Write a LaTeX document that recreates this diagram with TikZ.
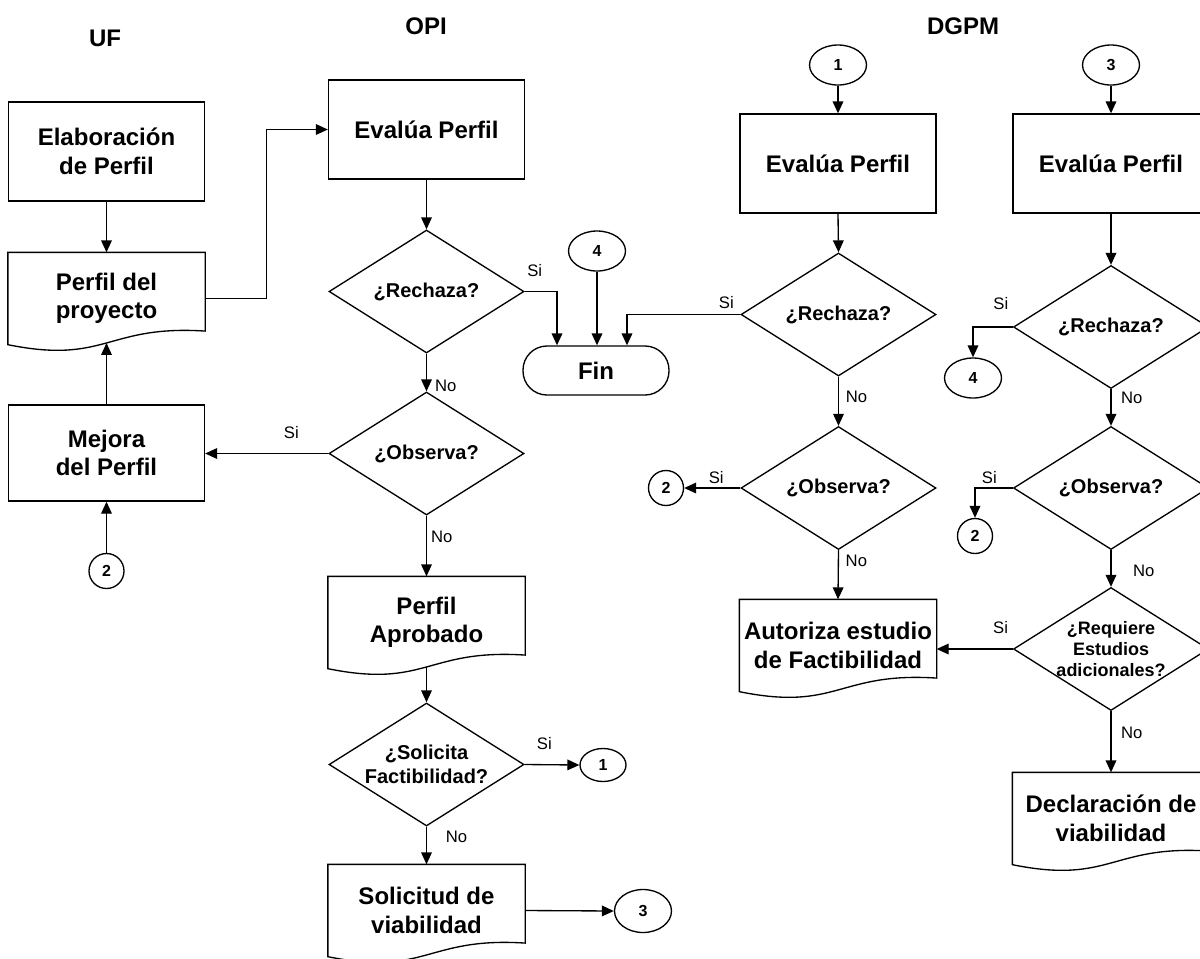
\documentclass[tikz,border=0pt]{standalone}
\usepackage{fontspec}
\setmainfont{Liberation Sans}
\usepackage{tikz}
\usetikzlibrary{positioning,shapes,arrows.meta,calc}

\begin{document}
\begin{tikzpicture}[x=0.75pt,y=-0.75pt,line width=1pt,
    proceso/.style={draw,rectangle,minimum width=147pt,minimum height=74.25pt,inner sep=0pt,align=center,font=\fontsize{18}{21.4}\selectfont\bfseries},
    documento/.style={rectangle,minimum width=147pt,minimum height=68.25pt,inner sep=0pt,align=center,font=\fontsize{18}{21.4}\selectfont\bfseries},
    decision/.style={draw,diamond,aspect=1.585,minimum width=146.25pt,minimum height=92.25pt,inner sep=0pt,align=center,font=\fontsize{15}{18}\selectfont\bfseries},
    conector/.style={draw,ellipse,minimum width=42.75pt,minimum height=30pt,inner sep=0pt,font=\fontsize{12}{14}\selectfont\bfseries},
    enlace/.style={draw,circle,minimum size=26.25pt,inner sep=0pt,font=\fontsize{12}{14}\selectfont\bfseries},
    terminal/.style={draw,rectangle,rounded corners=18pt,minimum width=109.5pt,minimum height=36.75pt,font=\fontsize{18}{21}\selectfont\bfseries},
    titulo/.style={font=\fontsize{18}{21}\selectfont\bfseries},
    etiqueta/.style={font=\fontsize{12.5}{14}\selectfont,inner sep=1pt},
    flecha/.style={-{Triangle[length=9pt,width=8pt]}}]
    \useasboundingbox (0,0) rectangle (1200,958);
    \clip (0,0) rectangle (1200,958);

    % encabezados
    \node[titulo] (uf) at (105,38) {UF};
    \node[titulo] (opi) at (426,26) {OPI};
    \node[titulo] (dgpm) at (963,26) {DGPM};

    % UF
    \node[proceso] (elab) at (106.5,151.5) {Elaboración\\de Perfil};
    \node[documento] (pp) at (106.5,298.5) {Perfil del\\proyecto};
    \node[proceso,minimum height=72pt] (mej) at (106.5,453) {Mejora\\del Perfil};
    \node[enlace] (c2c) at (106.5,571) {2};

    % OPI
    \node[proceso] (ev1) at (426.5,129.5) {Evalúa Perfil};
    \node[decision] (r1) at (426.5,291.5) {¿Rechaza?};
    \node[conector] (c4a) at (597,251) {4};
    \node[terminal] (fin) at (596,370.5) {Fin};
    \node[decision] (o1) at (426.5,453.5) {¿Observa?};
    \node[documento] (pa) at (426.5,622.5) {Perfil\\Aprobado};
    \node[decision] (s1) at (426.5,764.5) {¿Solicita\\Factibilidad?};
    \node[conector,minimum width=34.5pt,minimum height=24.75pt] (c1b) at (603,765) {1};
    \node[documento] (sv) at (426.5,910.5) {Solicitud de\\viabilidad};
    \node[conector,minimum height=32.25pt] (c3b) at (643,911) {3};

    % DGPM
    \node[conector] (c1a) at (838,65) {1};
    \node[proceso] (ev2) at (838,163.5) {Evalúa Perfil};
    \node[decision] (r2) at (838.5,314.5) {¿Rechaza?};
    \node[decision] (o2) at (838.5,488) {¿Observa?};
    \node[enlace] (c2a) at (666,488) {2};
    \node[documento] (az) at (838,645.5) {Autoriza estudio\\de Factibilidad};

    \node[conector] (c3a) at (1111,65) {3};
    \node[proceso] (ev3) at (1111,163.5) {Evalúa Perfil};
    \node[decision] (r3) at (1111,327) {¿Rechaza?};
    \node[conector] (c4b) at (973,378) {4};
    \node[decision] (o3) at (1111,488) {¿Observa?};
    \node[enlace] (c2b) at (975,536) {2};
    \node[decision,font=\fontsize{13.5}{15.75}\selectfont\bfseries,inner sep=-4pt] (q3) at (1111,649) {¿Requiere\\Estudios\\adicionales?};
    \node[documento] (dv) at (1111,818.5) {Declaración de\\viabilidad};

    % borde ondulado de los documentos
    \foreach \n in {pp,pa,sv,az,dv} {
      \draw (\n.north west) -- (\n.north east) -- ($(\n.south east)+(0,-13.6)$)
        .. controls ($(\n.south)+(0,-20)$) and ($(\n.south)+(0,20)$) .. (\n.south west) -- cycle;
      \coordinate (\n-w) at ($(\n.south)+(0,-1.7)$);
    }

    % entradas a Fin
    \coordinate (f1) at ($(fin.north)+(-39,0)$);
    \coordinate (f3) at ($(fin.north)+(31,0)$);

    % flechas UF
    \draw[flecha] (elab.south) -- (pp.north);
    \draw[flecha] (pp.east) -| ($(pp.east)!.5!(ev1.west)$) |- (ev1.west);
    \draw[flecha] (mej.north) -- (pp-w);
    \draw[flecha] (c2c.north) -- (c2c |- mej.south);

    % flechas OPI
    \draw[flecha] (ev1.south) -- (r1.north);
    \draw[flecha] (r1.east) -| node[etiqueta,pos=0,xshift=7.5pt,yshift=15.4pt] {Si} (f1);
    \draw[flecha] (c4a.south) -- (c4a |- fin.north);
    \draw[flecha] (r1.south) -- node[etiqueta,pos=.85,right=5pt] {No} (o1.north);
    \draw[flecha] (o1.west) -- node[etiqueta,pos=.3,above=9.5pt] {Si} (o1.west -| mej.east);
    \draw[flecha] (o1.south) -- node[etiqueta,pos=.35,right=2pt] {No} (pa.north);
    \draw[flecha] (pa-w) -- (s1.north);
    \draw[flecha] (s1.east) -- node[etiqueta,pos=.36,above=10pt] {Si} (c1b.west);
    \draw[flecha] (s1.south) -- node[etiqueta,pos=.28,right=13pt] {No} (sv.north);
    \draw[flecha] (sv.east) -- (c3b.west);

    % flechas DGPM
    \draw[flecha] (c1a.south) -- (ev2.north);
    \draw[flecha] (ev2.south) -- (r2.north);
    \draw[flecha] (r2.west) -| node[etiqueta,pos=0,xshift=-10.5pt,yshift=8.6pt] {Si} (f3);
    \draw[flecha] (r2.south) -- node[etiqueta,pos=.41,right=4pt] {No} (o2.north);
    \draw[flecha] (o2.west) -- node[etiqueta,pos=.43,above=2pt] {Si} (c2a.east);
    \draw[flecha] (o2.south) -- node[etiqueta,pos=.22,right=4pt] {No} (az.north);

    \draw[flecha] (c3a.south) -- (ev3.north);
    \draw[flecha] (ev3.south) -- (r3.north);
    \draw[flecha] (r3.west) -| node[etiqueta,pos=.15,above=11.5pt] {Si} (c4b.north);
    \draw[flecha] (r3.south) -- node[etiqueta,pos=.23,right=6pt] {No} (o3.north);
    \draw[flecha] (o3.west) -| node[etiqueta,pos=.31,above=2pt] {Si} (c2b.north);
    \draw[flecha] (o3.south) -- node[etiqueta,pos=.56,right=15pt] {No} (q3.north);
    \draw[flecha] (q3.west) -- node[etiqueta,pos=.16,above=10pt] {Si} (q3.west -| az.east);
    \draw[flecha] (q3.south) -- node[etiqueta,pos=.35,right=6pt] {No} (dv.north);
\end{tikzpicture}
\end{document}
